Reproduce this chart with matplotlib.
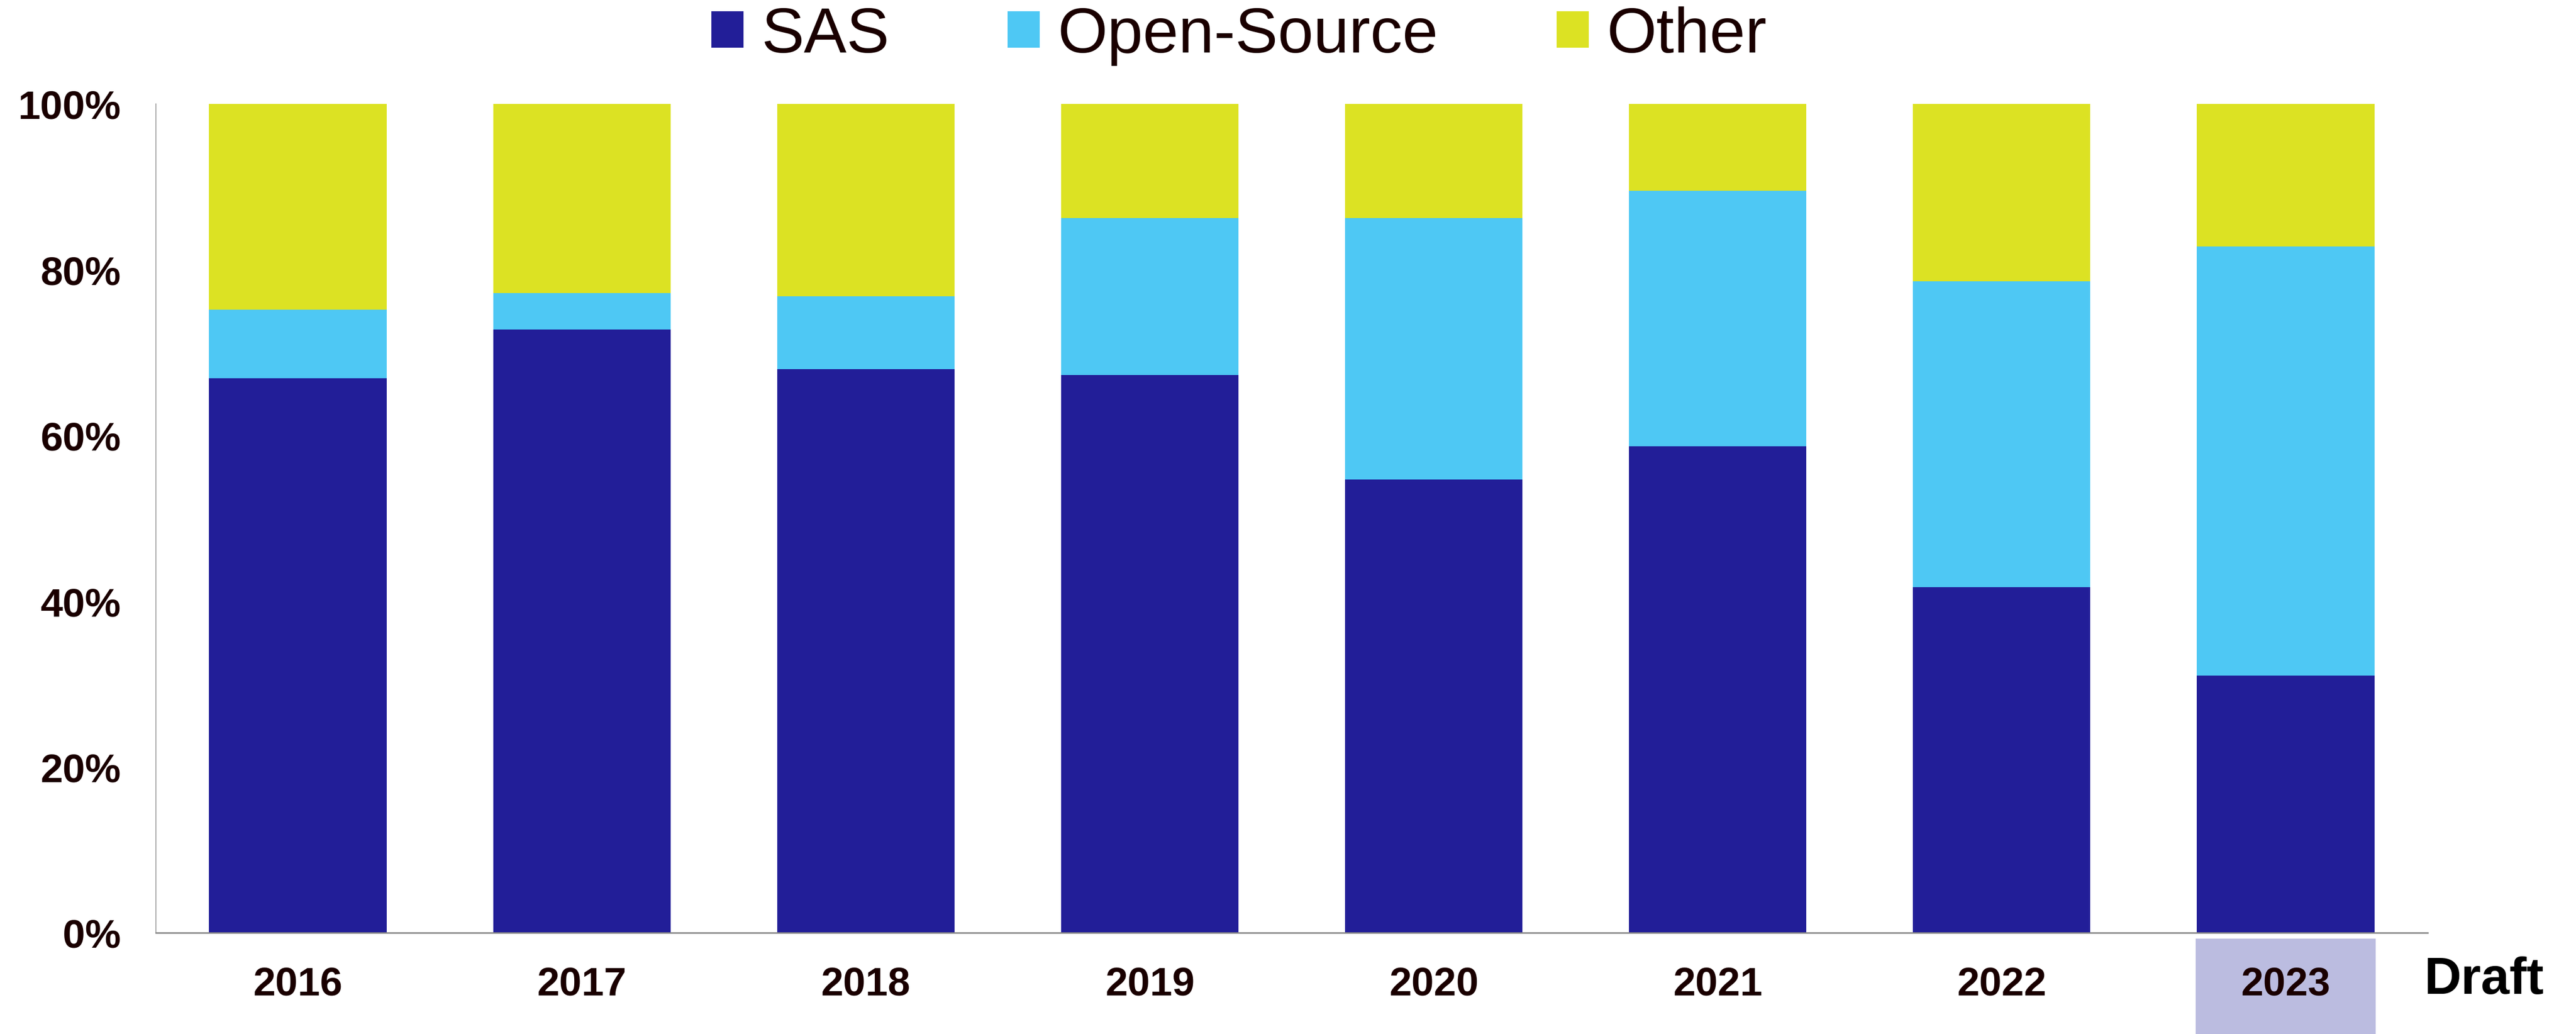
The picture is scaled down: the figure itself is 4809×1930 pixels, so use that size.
import matplotlib
matplotlib.use("Agg")
import matplotlib.pyplot as plt
import matplotlib.transforms as mtransforms
from matplotlib.patches import Rectangle, Patch
import numpy as np

years = ["2016", "2017", "2018", "2019", "2020", "2021", "2022", "2023"]
sas = [66.9, 72.8, 68.0, 67.3, 54.7, 58.7, 41.7, 31.0]
open_source = [8.3, 4.4, 8.8, 18.9, 31.5, 30.8, 36.9, 51.8]
other = [24.8, 22.8, 23.2, 13.8, 13.8, 10.5, 21.4, 17.2]
series_names = ["SAS", "Open-Source", "Other"]
yticks = [0, 20, 40, 60, 80, 100]
ytick_labels = ["0%", "20%", "40%", "60%", "80%", "100%"]

colors = ["#221E98", "#4EC8F4", "#DCE223"]
text_color = "#1A0000"

plt.rcParams['font.family'] = ['Liberation Sans', 'DejaVu Sans']

fig = plt.figure(figsize=(48.09, 19.31), dpi=100)
ax = fig.add_axes([291 / 4809, 1 - 1742 / 1931, (4532 - 291) / 4809, (1742 - 195) / 1931])
ax.set_zorder(1)
ax.patch.set_alpha(0)

x = np.arange(len(years))
w = 0.625
ax.bar(x, sas, width=w, color=colors[0], label=series_names[0])
ax.bar(x, open_source, width=w, bottom=sas, color=colors[1], label=series_names[1])
bottom2 = np.array(sas) + np.array(open_source)
ax.bar(x, other, width=w, bottom=bottom2, color=colors[2], label=series_names[2])

ax.set_xlim(-0.5, 7.5)
ax.set_ylim(0, 100)
ax.set_yticks(yticks)
ax.set_yticklabels(ytick_labels)
ax.set_xticks(x)
ax.set_xticklabels(years)
ax.tick_params(axis='both', length=0, labelsize=54, labelcolor=text_color)
ax.tick_params(axis='y', pad=47)
ax.tick_params(axis='x', pad=44)
for lab in ax.get_xticklabels() + ax.get_yticklabels():
    lab.set_fontweight('bold')

for s in ['top', 'right']:
    ax.spines[s].set_visible(False)
ax.spines['left'].set_color('#999999')
ax.spines['left'].set_linewidth(1.2)
ax.spines['bottom'].set_color('#888888')
ax.spines['bottom'].set_linewidth(2.0)

# highlight box behind the 2023 label
trans = mtransforms.blended_transform_factory(ax.transData, fig.transFigure)
hl = Rectangle((7 - 0.317, 0), 0.634, 1 - 1753 / 1931, transform=trans,
               facecolor="#BBBCE0", edgecolor='none', clip_on=False, zorder=0)
fig.patches.append(hl)
hl.set_figure(fig)

fig.text(4526 / 4809, 1 - 1830 / 1931, "Draft", fontsize=69, fontweight='bold',
         color='black', ha='left', va='center')

handles = [Patch(facecolor=c, edgecolor='none') for c in colors]
fig.legend(handles, series_names, loc='center', bbox_to_anchor=(0.481, 0.965),
           ncol=3, frameon=False, fontsize=86, handlelength=0.5, handleheight=0.5,
           handletextpad=0.28, columnspacing=1.85, labelcolor=text_color)

fig.savefig("out.png", dpi=100)
